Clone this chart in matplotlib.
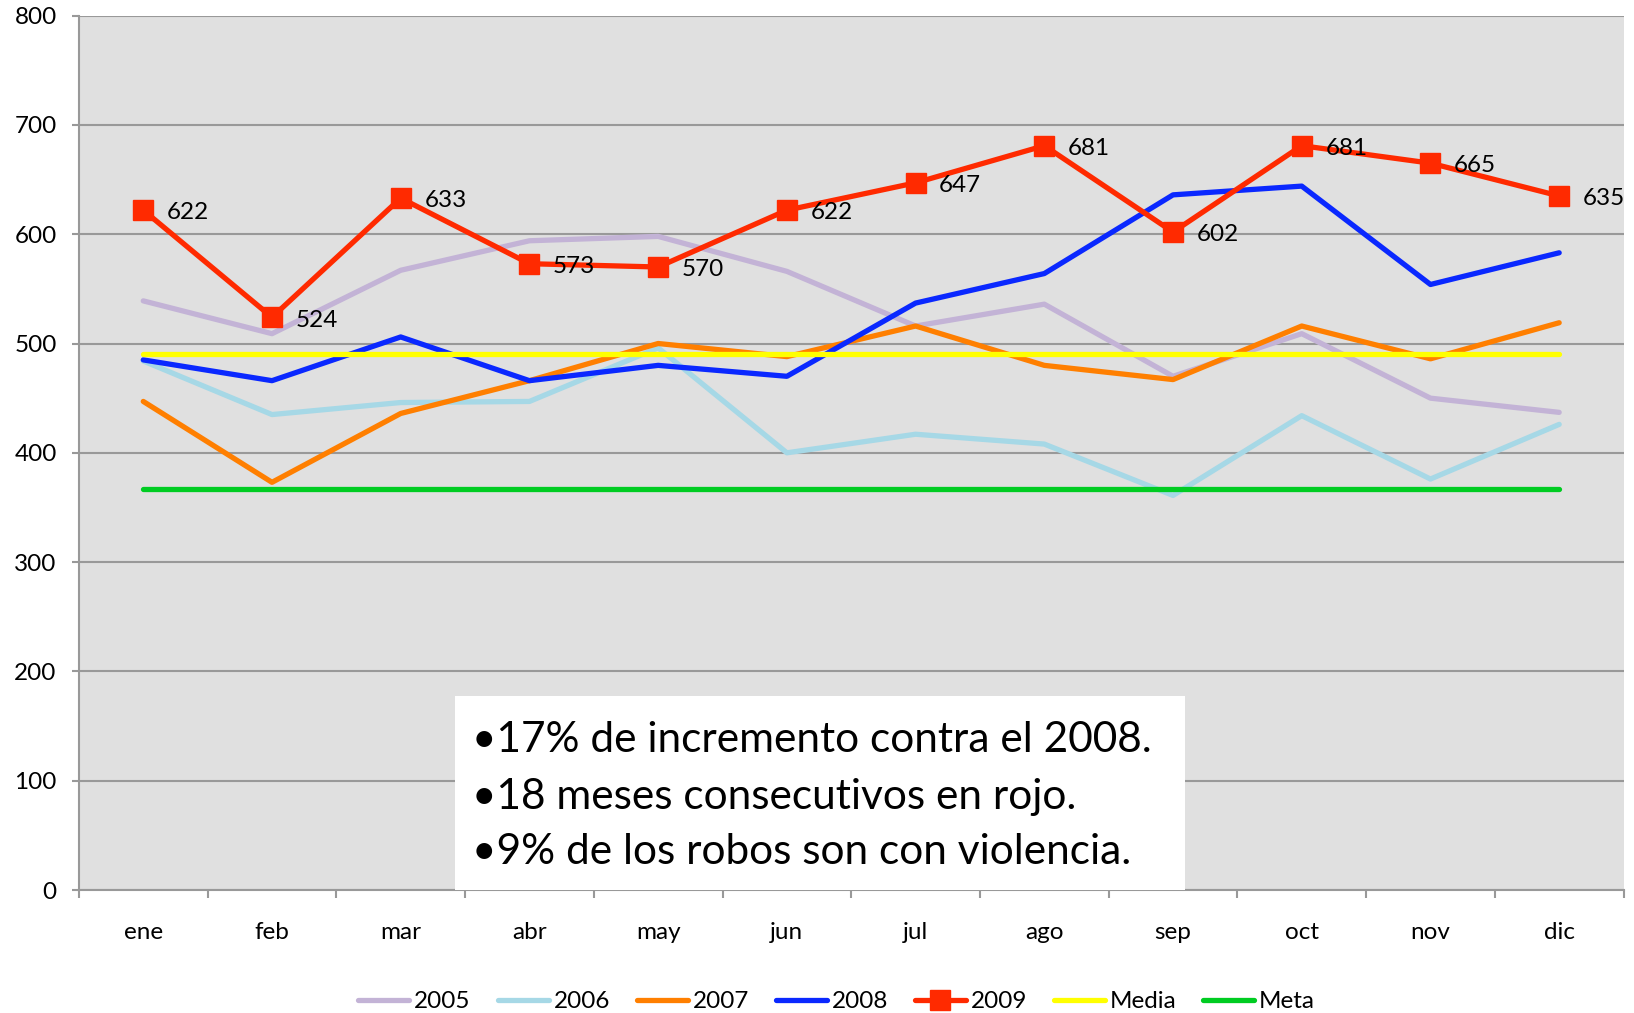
import numpy as np
import matplotlib.pyplot as plt
from matplotlib.patches import Rectangle

# ----- data -----
meses = ["ene", "feb", "mar", "abr", "may", "jun", "jul", "ago", "sep", "oct", "nov", "dic"]
y2005 = [539, 509, 567, 594, 598, 566, 516, 536, 470, 509, 450, 437]
y2006 = [484, 435, 446, 447, 496, 400, 417, 408, 361, 434, 376, 426]
y2007 = [447, 373, 436, 466, 500, 488, 516, 480, 467, 516, 486, 519]
y2008 = [485, 466, 506, 466, 480, 470, 537, 564, 636, 644, 554, 583]
y2009 = [622, 524, 633, 573, 570, 622, 647, 681, 602, 681, 665, 635]
media = [490] * 12
meta = [367] * 12

notas = ["\u202217% de incremento contra el 2008.",
         "\u202218 meses consecutivos en rojo.",
         "\u20229% de los robos son con violencia."]

plt.rcParams['font.family'] = ['Lato', 'DejaVu Sans']

fig = plt.figure(figsize=(16.34, 10.13), dpi=100)
ax = fig.add_axes([0.0483, 0.1214, 0.9453, 0.8632])
ax.set_facecolor("#e0e0e0")

x = np.arange(len(meses))
lw = 3.8
ax.plot(x, y2005, color="#c3b3d6", lw=lw, label="2005", solid_capstyle="round")
ax.plot(x, y2006, color="#a6d8e6", lw=lw, label="2006", solid_capstyle="round")
ax.plot(x, y2007, color="#ff7f00", lw=lw, label="2007", solid_capstyle="round")
ax.plot(x, y2008, color="#0a28ff", lw=lw, label="2008", solid_capstyle="round")
ax.plot(x, y2009, color="#ff2a00", lw=lw, label="2009", marker="s", markersize=14,
        solid_capstyle="round")
ax.plot(x, media, color="#ffff00", lw=lw, label="Media", solid_capstyle="round")
ax.plot(x, meta, color="#00cc22", lw=lw, label="Meta", solid_capstyle="round")

# data labels for 2009
for xi, v in zip(x, y2009):
    ax.annotate(str(v), (xi, v), xytext=(17, -2), textcoords="offset points",
                ha="left", va="center", fontsize=17.5)

ax.set_xlim(-0.5, 11.5)
ax.set_ylim(0, 800)
ax.set_yticks(range(0, 801, 100))
ax.grid(axis="y", color="#999999", lw=1.5)
ax.set_axisbelow(True)

ax.set_xticks(x)
ax.set_xticklabels(meses, fontsize=17.5)
ax.set_xticks(np.arange(-0.5, 12, 1), minor=True)
ax.tick_params(axis="x", which="major", length=0, pad=23)
ax.tick_params(axis="x", which="minor", length=6, width=1.5, color="#999999", direction="out")
ax.tick_params(axis="y", length=5, width=1.5, color="#999999", pad=11, labelsize=17.5)

for s in ["top", "right"]:
    ax.spines[s].set_visible(False)
for s in ["left", "bottom"]:
    ax.spines[s].set_color("#999999")
    ax.spines[s].set_linewidth(1.5)

# white note box
ax.add_patch(Rectangle((2.42, 0), 5.67, 177.5, facecolor="white", edgecolor="none", zorder=5))
for yv, t in zip([137, 85, 35], notas):
    ax.text(2.55, yv, t, fontsize=30.5, va="center", ha="left", zorder=6)

fig.legend(loc="lower center", bbox_to_anchor=(0.512, -0.021), ncol=7, frameon=False,
           fontsize=17.5, handlelength=2.1, handletextpad=0.2, columnspacing=1.1)

fig.savefig("out.png", dpi=100)
